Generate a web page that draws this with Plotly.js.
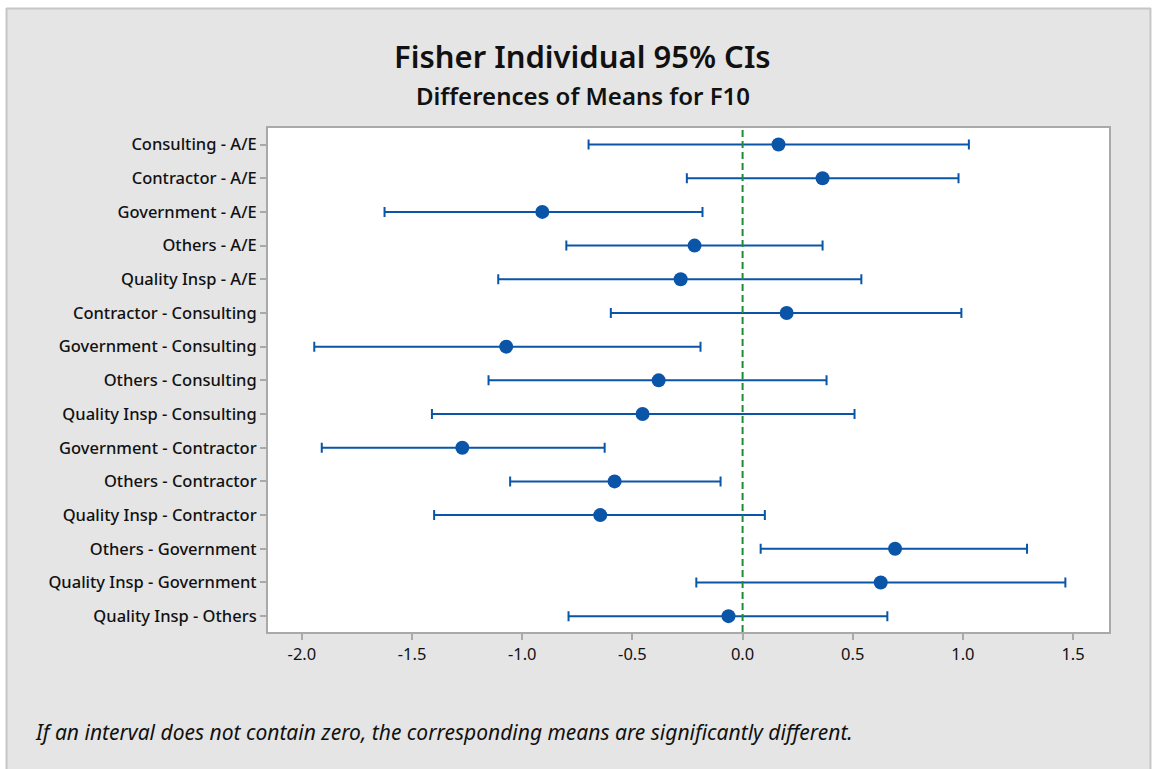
<!DOCTYPE html>
<html>
<head>
<meta charset="utf-8">
<script src="https://cdn.plot.ly/plotly-3.0.1.min.js"></script>
<style>
html,body{margin:0;padding:0;background:#ffffff;}
#chart{width:1153px;height:769px;}
</style>
</head>
<body>
<div id="chart"></div>
<script>
const comparisons = [
  "Consulting - A/E",
  "Contractor - A/E",
  "Government - A/E",
  "Others - A/E",
  "Quality Insp - A/E",
  "Contractor - Consulting",
  "Government - Consulting",
  "Others - Consulting",
  "Quality Insp - Consulting",
  "Government - Contractor",
  "Others - Contractor",
  "Quality Insp - Contractor",
  "Others - Government",
  "Quality Insp - Government",
  "Quality Insp - Others"
];
const diffMean = [0.163, 0.363, -0.909, -0.218, -0.281, 0.200, -1.073, -0.381, -0.454, -1.272, -0.581, -0.646, 0.692, 0.627, -0.064];
const lowerCI  = [-0.699, -0.253, -1.625, -0.800, -1.109, -0.598, -1.944, -1.153, -1.410, -1.910, -1.055, -1.400, 0.082, -0.210, -0.790];
const upperCI  = [1.027, 0.980, -0.182, 0.363, 0.539, 0.993, -0.191, 0.381, 0.508, -0.626, -0.100, 0.101, 1.291, 1.465, 0.657];
const xTicks = [-2.0, -1.5, -1.0, -0.5, 0.0, 0.5, 1.0, 1.5];
const xTickText = ["-2.0", "-1.5", "-1.0", "-0.5", "0.0", "0.5", "1.0", "1.5"];

const blue = '#0b55a8';
const frame = '#a9a9a9';
const bg = '#e5e5e5';

const trace = {
  type: 'scatter',
  mode: 'markers',
  x: diffMean,
  y: comparisons,
  marker: {color: blue, size: 14},
  error_x: {
    type: 'data',
    symmetric: false,
    array: upperCI.map((u, i) => u - diffMean[i]),
    arrayminus: lowerCI.map((l, i) => diffMean[i] - l),
    color: blue,
    thickness: 2,
    width: 5
  },
  hoverinfo: 'x+y',
  showlegend: false
};

const fontFam = '"Noto Sans", "Open Sans", sans-serif';

const layout = {
  width: 1153,
  height: 769,
  margin: {l: 268, r: 44, t: 128, b: 137},
  paper_bgcolor: bg,
  plot_bgcolor: '#ffffff',
  font: {family: fontFam, color: '#111111'},
  xaxis: {
    range: [-2.154, 1.663],
    tickvals: xTicks,
    ticktext: xTickText,
    ticks: 'outside',
    ticklen: 6,
    tickwidth: 2,
    tickcolor: frame,
    showline: true,
    linecolor: frame,
    linewidth: 2,
    mirror: true,
    showgrid: false,
    zeroline: false,
    tickfont: {size: 16.5, color: '#111111'},
    fixedrange: true
  },
  yaxis: {
    type: 'category',
    categoryorder: 'array',
    categoryarray: comparisons,
    range: [14.47, -0.49],
    ticks: 'outside',
    ticklen: 6,
    tickwidth: 2,
    tickcolor: frame,
    showline: true,
    linecolor: frame,
    linewidth: 2,
    mirror: true,
    showgrid: false,
    zeroline: false,
    tickfont: {size: 16.5, color: '#111111', weight: 500},
    fixedrange: true
  },
  shapes: [
    {type: 'line', xref: 'x', yref: 'paper', x0: 0, x1: 0, y0: 0, y1: 1,
     line: {color: '#1f8c35', width: 2, dash: '7px,4px'}},
    {type: 'rect', xref: 'paper', yref: 'paper', x0: -0.33, x1: 1.06, y0: 1.2381, y1: 1.27,
     fillcolor: '#ffffff', line: {width: 0}, layer: 'above'},
    {type: 'rect', xref: 'paper', yref: 'paper', x0: -0.33, x1: -0.3115, y0: -0.3, y1: 1.27,
     fillcolor: '#ffffff', line: {width: 0}, layer: 'above'},
    {type: 'rect', xref: 'paper', yref: 'paper', x0: 1.0499, x1: 1.06, y0: -0.3, y1: 1.27,
     fillcolor: '#ffffff', line: {width: 0}, layer: 'above'},
    {type: 'line', xref: 'paper', yref: 'paper', x0: -0.3115, x1: 1.0499, y0: 1.2371, y1: 1.2371,
     line: {color: '#c6c6c6', width: 2}, layer: 'above'},
    {type: 'line', xref: 'paper', yref: 'paper', x0: -0.3109, x1: -0.3109, y0: -0.3, y1: 1.2381,
     line: {color: '#c6c6c6', width: 2}, layer: 'above'},
    {type: 'line', xref: 'paper', yref: 'paper', x0: 1.0493, x1: 1.0493, y0: -0.3, y1: 1.2381,
     line: {color: '#c6c6c6', width: 2}, layer: 'above'}
  ],
  annotations: [
    {text: 'Fisher Individual 95% CIs', xref: 'paper', yref: 'paper',
     x: (582 - 268) / 841, y: (632 - 56) / 504, xanchor: 'center', yanchor: 'middle',
     showarrow: false, font: {size: 31, color: '#111111', weight: 600}},
    {text: 'Differences of Means for F10', xref: 'paper', yref: 'paper',
     x: (583 - 268) / 841, y: (632 - 95) / 504, xanchor: 'center', yanchor: 'middle',
     showarrow: false, font: {size: 24, color: '#111111', weight: 600}},
    {text: '<i>If an interval does not contain zero, the corresponding means are significantly different.</i>',
     xref: 'paper', yref: 'paper',
     x: (33 - 268) / 841, y: (632 - 732) / 504, xanchor: 'left', yanchor: 'middle',
     showarrow: false, font: {size: 21, color: '#111111'}}
  ]
};

Plotly.newPlot('chart', [trace], layout, {displayModeBar: false, staticPlot: true});
</script>
</body>
</html>
